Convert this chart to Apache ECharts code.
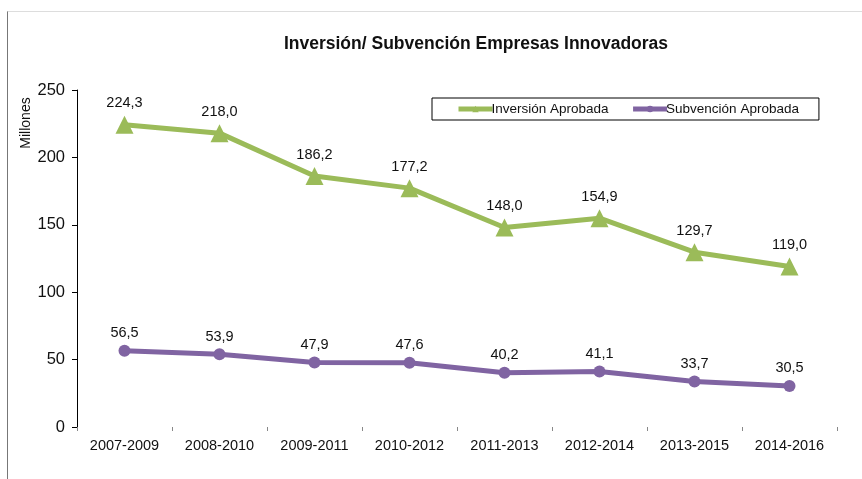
<!DOCTYPE html>
<html>
<head>
<meta charset="utf-8">
<script src="https://cdn.jsdelivr.net/npm/echarts@6/dist/echarts.min.js"></script>
<style>
  html, body { margin: 0; padding: 0; background: #fff; }
  #frame { position: absolute; left: 7px; top: 11px; width: 870px; height: 480px;
           border-left: 1px solid #777; border-top: 1px solid #ddd; }
  #chart { position: absolute; left: 0; top: 0; width: 862px; height: 479px; }
</style>
</head>
<body>
<div id="frame"></div>
<div id="chart"></div>
<script>
// periodos
const categories = ['2007-2009', '2008-2010', '2009-2011', '2010-2012', '2011-2013', '2012-2014', '2013-2015', '2014-2016']
// millones de euros
const inversion = [224.3, 218.0, 186.2, 177.2, 148.0, 154.9, 129.7, 119.0]
const subvencion = [56.5, 53.9, 47.9, 47.6, 40.2, 41.1, 33.7, 30.5]

const chart = echarts.init(document.getElementById('chart'))
const fmt = p => p.value.toFixed(1).replace('.', ',')

const option = {
    animation: false,
    textStyle: { fontFamily: 'Liberation Sans, Arial, sans-serif' },
    title: {
        text: 'Inversión/ Subvención Empresas Innovadoras',
        left: 471,
        textAlign: 'center',
        top: 30,
        textStyle: { fontSize: 17.5, fontWeight: 'bold', color: '#111' }
    },
    // eje Y: rótulo girado
    graphic: [{
        type: 'text',
        x: 19,
        y: 123,
        rotation: Math.PI / 2,
        style: {
            text: 'Millones',
            font: '14px Liberation Sans, Arial, sans-serif',
            fill: '#111',
            align: 'center',
            verticalAlign: 'top'
        }
    }],
    legend: {
        left: 432,
        top: 98,
        height: 24,
        padding: [4, 20, 4, 24],
        itemGap: 22,
        itemWidth: 34,
        itemHeight: 8,
        borderColor: '#000',
        borderWidth: 1,
        lineStyle: { width: 5 },
        textStyle: { fontSize: 13.5, color: '#111', padding: [0, 0, 0, -6] },
        data: ['Inversión Aprobada', 'Subvención Aprobada']
    },
    grid: { left: 77, right: 25, top: 90, bottom: 52 },
    xAxis: {
        type: 'category',
        data: categories,
        boundaryGap: true,
        axisLine: { show: false },
        axisTick: { show: true, length: 4, lineStyle: { color: '#888' } },
        axisLabel: { fontSize: 14.5, color: '#111', margin: 11 }
    },
    yAxis: {
        type: 'value',
        min: 0,
        max: 250,
        interval: 50,
        axisLine: { show: true, lineStyle: { color: '#000', width: 1 } },
        axisTick: { show: true, length: 5, lineStyle: { color: '#000' } },
        axisLabel: { fontSize: 16.5, color: '#111', margin: 12 },
        splitLine: { show: false }
    },
    series: [
        {
            name: 'Inversión Aprobada',
            type: 'line',
            data: inversion,
            symbol: 'triangle',
            symbolSize: 18,
            color: '#9bbb59',
            lineStyle: { width: 5 },
            label: { show: true, position: 'top', distance: 5, fontSize: 14.5, color: '#111', formatter: fmt }
        },
        {
            name: 'Subvención Aprobada',
            type: 'line',
            data: subvencion,
            symbol: 'circle',
            symbolSize: 12,
            color: '#8064a2',
            lineStyle: { width: 5 },
            label: { show: true, position: 'top', distance: 4, fontSize: 14.5, color: '#111', formatter: fmt }
        }
    ]
}
chart.setOption(option)
</script>
</body>
</html>
